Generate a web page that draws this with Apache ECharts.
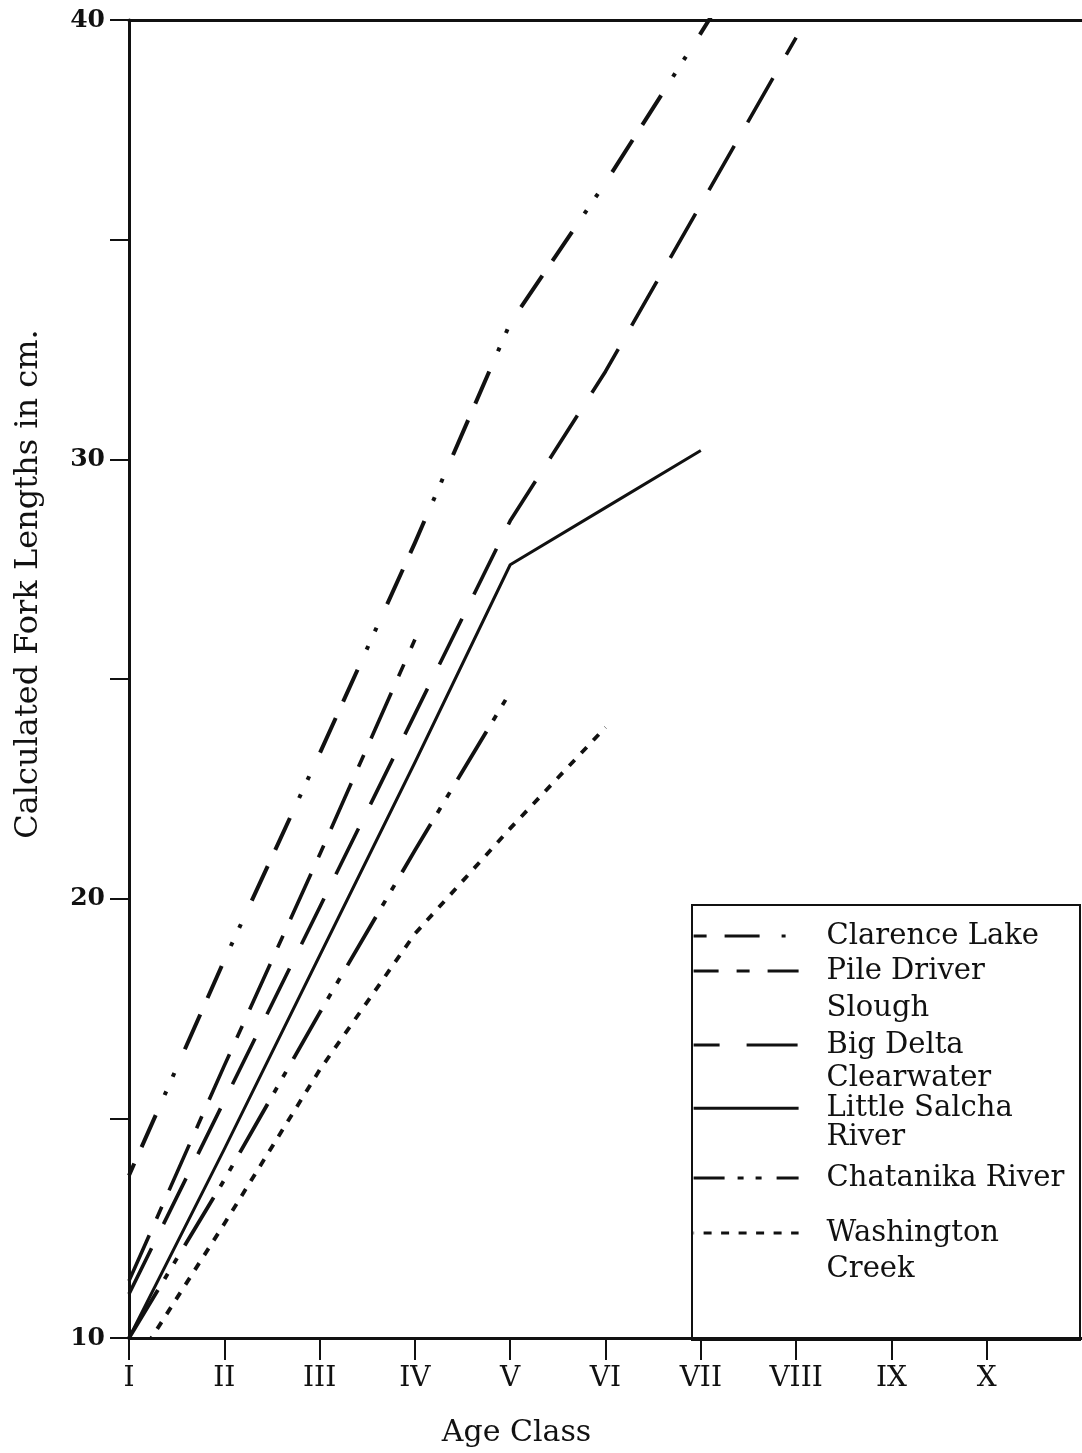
<!DOCTYPE html>
<html>
<head>
<meta charset="utf-8">
<title>Calculated Fork Lengths by Age Class</title>
<script src="https://cdn.jsdelivr.net/npm/echarts@6/dist/echarts.min.js"></script>
<style>
  html, body { margin: 0; padding: 0; background: #ffffff; }
  #chart { width: 1082px; height: 1453px; }
</style>
</head>
<body>
<div id="chart"></div>
<script>
// Age classes on the horizontal axis (numeric positions and their labels)
const ageNumbers = [1, 2, 3, 4, 5, 6, 7, 8, 9, 10];
const ageLabels = ['I', 'II', 'III', 'IV', 'V', 'VI', 'VII', 'VIII', 'IX', 'X'];

// Labelled fork-length ticks (cm)
const lengthTicks = [10, 20, 30, 40];

// Calculated fork lengths (cm) per age class, starting at age I
const clarenceLake = [13.7, 18.6, 23.3, 28.1, 33.1, 36.3, 39.7, 43.2];
const pileDriverSlough = [11.3, 16.2, 21.0, 25.9];
const bigDelta = [11.0, 15.4, 19.8, 24.2, 28.6, 32.0, 35.8, 39.6];
const clearwaterLittleSalcha = [10.0, 14.3, 18.7, 23.1, 27.6, 28.9, 30.2];
const chatanikaRiver = [10.0, 13.6, 17.4, 21.1, 24.7];
const washingtonCreek = [9.2, 12.6, 16.1, 19.2, 21.6, 23.9];

// Series names and the way they are set in the key
const seriesNames = [
  'Clarence Lake',
  'Pile Driver Slough',
  'Big Delta',
  'Clearwater Little Salcha River',
  'Chatanika River',
  'Washington Creek'
];
const keyLabels = [
  'Clarence Lake',
  '\u00a0\nPile Driver\nSlough',
  'Big Delta',
  'Clearwater\nLittle Salcha\nRiver',
  'Chatanika River',
  '\u00a0\nWashington\nCreek'
];

const INK = '#111111';
const FONT = '"DejaVu Serif", "Liberation Serif", serif';

const seriesValues = [clarenceLake, pileDriverSlough, bigDelta, clearwaterLittleSalcha, chatanikaRiver, washingtonCreek];

// Line styles: dash-dash-dot-dot, long-short dash, long dash, solid, dash-dot-dot (short), short dashes
const lineStyles = [
  { width: 4, type: [38, 18, 35, 22, 4, 16, 4, 26], dashOffset: 25 },
  { width: 3.6, type: [50, 18, 13, 18] },
  { width: 3.6, type: [51, 27] },
  { width: 3, type: 'solid' },
  { width: 3.8, type: [56, 13, 6, 12, 6, 15] },
  { width: 3.8, type: [8, 9.5] }
];

const series = seriesNames.map((name, k) => ({
  name: name,
  type: 'line',
  xAxisIndex: 0,
  yAxisIndex: 0,
  symbol: 'none',
  clip: true,
  animation: false,
  lineStyle: Object.assign({ color: INK, cap: 'butt', join: 'round' }, lineStyles[k]),
  itemStyle: { color: INK },
  data: seriesValues[k].map((v, i) => [ageNumbers[i], v])
}));

// Key rows: vertical position and line height of each entry
const keyRows = [
  { top: 918, lh: 36 },
  { top: 915.5, lh: 37 },
  { top: 1027, lh: 36 },
  { top: 1064, lh: 29.5 },
  { top: 1160, lh: 36 },
  { top: 1179, lh: 36 }
];

const legends = seriesNames.map((name, k) => ({
  data: [name],
  left: 692,
  top: keyRows[k].top,
  orient: 'vertical',
  padding: 0,
  itemGap: 0,
  itemWidth: 105,
  itemHeight: 8,
  selectedMode: false,
  formatter: () => keyLabels[k],
  itemStyle: { color: 'rgba(0,0,0,0)', borderWidth: 0, opacity: 0 },
  lineStyle: { width: 3.2 },
  textStyle: {
    fontFamily: FONT,
    fontSize: 29,
    color: INK,
    lineHeight: keyRows[k].lh,
    padding: [0, 0, 0, 23]
  }
}));

const chart = echarts.init(document.getElementById('chart'), null, { renderer: 'canvas' });

chart.setOption({
  backgroundColor: '#ffffff',
  animation: false,
  grid: { left: 129, right: 0, top: 20, bottom: 113, containLabel: false },
  xAxis: [
    {
      type: 'value',
      position: 'bottom',
      min: 1,
      max: 11,
      interval: 1,
      name: 'Age Class',
      nameLocation: 'middle',
      nameGap: 80,
      nameTextStyle: { fontFamily: FONT, fontSize: 30, color: INK, padding: [0, 178, 0, 0] },
      axisLine: { show: true, onZero: false, lineStyle: { color: INK, width: 3 } },
      axisTick: { show: true, inside: false, length: 22, customValues: ageNumbers, lineStyle: { color: INK, width: 2 } },
      axisLabel: {
        margin: 27,
        fontFamily: FONT,
        fontSize: 28,
        color: INK,
        customValues: ageNumbers,
        formatter: (v) => {
          const i = ageNumbers.indexOf(Math.round(v));
          return i >= 0 ? ageLabels[i] : '';
        }
      },
      splitLine: { show: false }
    },
    {
      type: 'value',
      position: 'top',
      min: 1,
      max: 11,
      interval: 1,
      axisLine: { show: true, onZero: false, lineStyle: { color: INK, width: 3 } },
      axisTick: { show: false },
      axisLabel: { show: false },
      splitLine: { show: false }
    }
  ],
  yAxis: {
    type: 'value',
    min: 10,
    max: 40,
    interval: 5,
    name: 'Calculated Fork Lengths in cm.',
    nameLocation: 'middle',
    nameRotate: 90,
    nameGap: 84,
    nameTextStyle: { fontFamily: FONT, fontSize: 32, color: INK, padding: [0, 0, 0, 190] },
    axisLine: { show: true, onZero: false, lineStyle: { color: INK, width: 3 } },
    axisTick: { show: true, inside: false, length: 19, lineStyle: { color: INK, width: 2 } },
    axisLabel: {
      margin: 24,
      fontFamily: FONT,
      fontSize: 25,
      fontWeight: 'bold',
      color: INK,
      formatter: (v) => (lengthTicks.indexOf(v) >= 0 ? String(v) : '')
    },
    splitLine: { show: false }
  },
  legend: legends,
  graphic: [
    {
      type: 'rect',
      z: 1,
      shape: { x: 692, y: 905, width: 388, height: 435 },
      style: { fill: 'none', stroke: INK, lineWidth: 2 }
    }
  ],
  series: series
});
</script>
</body>
</html>
